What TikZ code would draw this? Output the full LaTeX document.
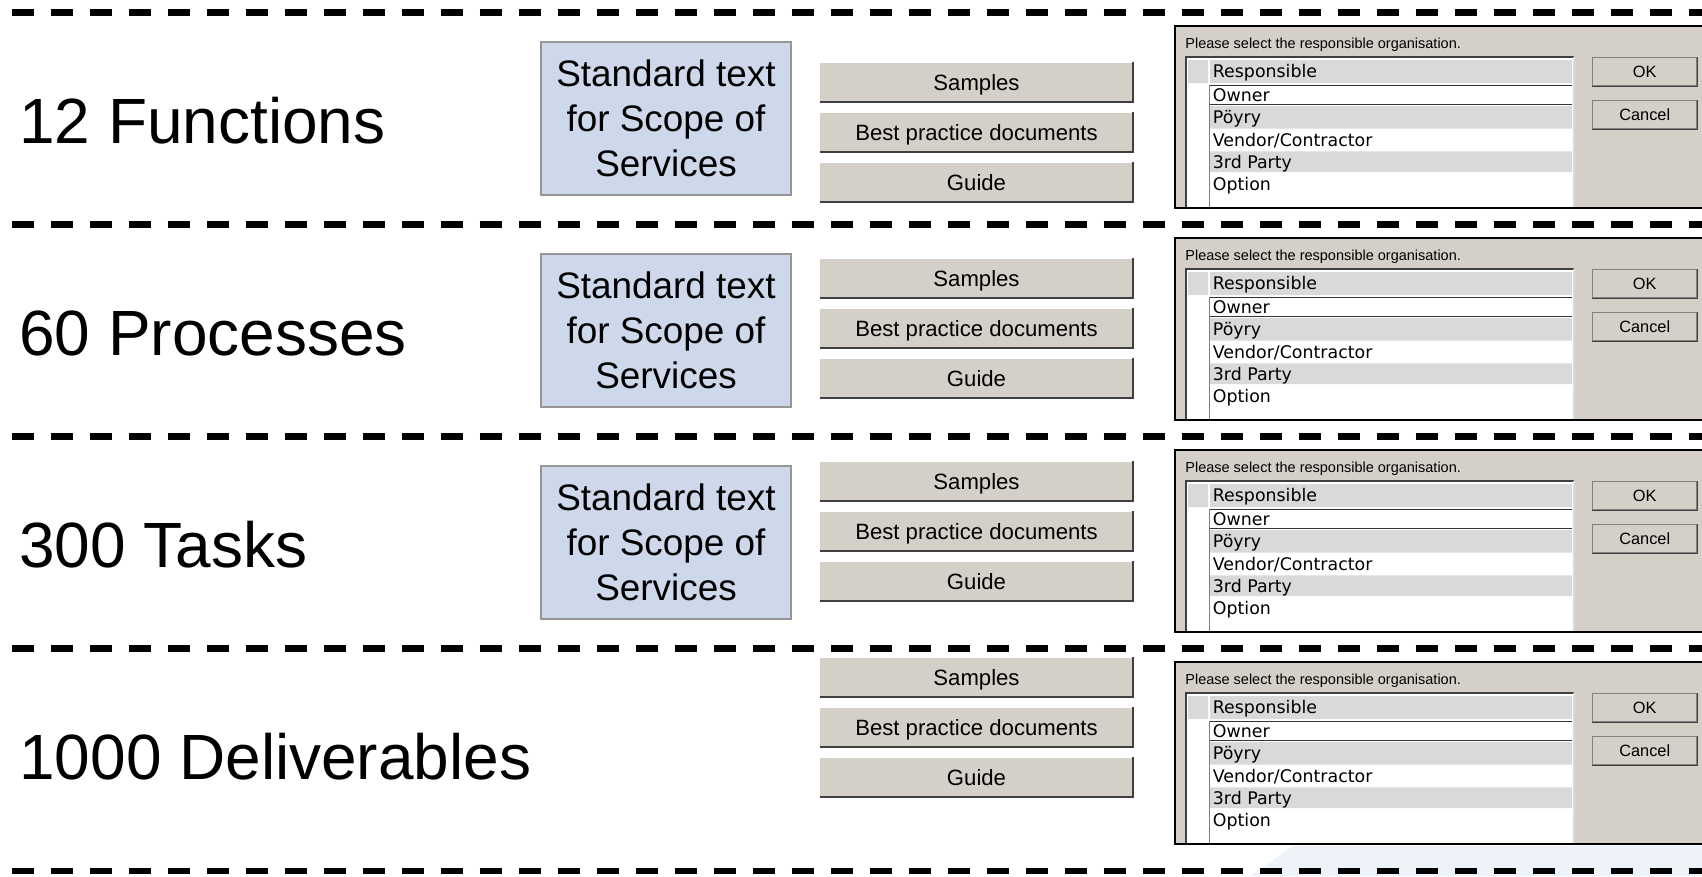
\documentclass[tikz,border=0pt]{standalone}
\usepackage{fontspec}
\setmainfont{Liberation Sans}
\newfontfamily\listfont{DejaVu Sans}
\usetikzlibrary{positioning}
\definecolor{wingray}{RGB}{212,208,200}
\definecolor{rowgray}{RGB}{217,217,217}
\definecolor{boxblue}{RGB}{205,217,234}
\definecolor{boxedge}{RGB}{150,150,150}
\definecolor{btndark}{RGB}{64,64,64}
\definecolor{logoblue}{RGB}{238,242,249}

\begin{document}
\begin{tikzpicture}[x=0.02cm,y=-0.02cm,node distance=1cm,every node/.style={inner sep=0pt},
  rowlabel/.style={anchor=base west,font=\fontsize{36.4}{40}\selectfont},
  stdbox/.style={draw=boxedge,line width=0.03cm,fill=boxblue,minimum width=5cm,minimum height=3.06cm,align=center,font=\fontsize{21}{25.6}\selectfont},
  btn/.style={fill=wingray,minimum width=6.26cm,minimum height=0.78cm,text depth=0pt,font=\fontsize{12.6}{14}\selectfont},
  btnlight/.style={white,line width=0.02cm},
  btnshade/.style={btndark,line width=0.04cm},
  dlgtext/.style={anchor=west,font=\fontsize{8.25}{10}\selectfont},
  listitem/.style={anchor=base west,font=\listfont\fontsize{9.9}{11}\selectfont},
  smallbtn/.style={draw=gray,fill=wingray,line width=0.02cm,minimum width=2.08cm,minimum height=0.56cm,text depth=0pt,font=\fontsize{9.3}{10}\selectfont},
  cutline/.style={line width=0.126cm,dash pattern=on 0.44cm off 0.34cm}]
  \useasboundingbox (0,0) rectangle (1702,876);
  \clip (0,0) rectangle (1702,876);
  \fill[logoblue] (1250,876) -- (1293,846) -- (1702,846) -- (1702,876) -- cycle;
  \foreach \y in {12.5,224.5,436.5,648.5,871}
    \draw[cutline] (12,\y) -- (1702,\y);
  \foreach \r/\dy in {1/0,2/212,3/424}
    \node[stdbox] (std\r) at (666,{118.5+\dy}) {Standard text\\for Scope of\\Services};
  \foreach \r/\dy/\by/\lbl in {1/0/0/12 Functions,2/212/196/60 Processes,3/424/399/300 Tasks,4/636/595/1000 Deliverables}{
    \node[rowlabel] (lab\r) at (19,{143+\dy}) {\lbl};
    \node[btn] (samp\r) at (976.5,{82+\by}) {Samples};
    \node[btn,below of=samp\r] (best\r) {Best practice documents};
    \node[btn,below of=best\r] (guide\r) {Guide};
    \foreach \b in {samp\r,best\r,guide\r}{
      \draw[btnlight] (\b.south west) |- (\b.north east);
      \draw[btnshade] (\b.south west) -| (\b.north east);
    }
    \begin{scope}[shift={(0,\dy)}]
      \fill[wingray] (1175,26) rectangle (1720,208);
      \node[dlgtext] (ask\r) at (1185,45) {Please select the responsible organisation.};
      \fill[white] (1185,56) rectangle (1574,207);
      \fill[rowgray] (1188,60) rectangle (1208,83) (1210,60) rectangle (1572,83)
        (1210,106) rectangle (1572,128.7) (1210,151.3) rectangle (1572,172);
      \draw[btndark,line width=0.04cm] (1186,207) -- (1186,57) -- (1574,57);
      \draw[white!85!black,line width=0.04cm] (1574,57) -- (1574,207);
      \draw[black!80,line width=0.03cm] (1210,85.3) -- (1572,85.3) (1210,104.7) -- (1572,104.7);
      \draw[gray,line width=0.02cm] (1209.3,85) -- (1209.3,207);
      \node[listitem] (head\r) at (1212.5,77.5) {Responsible};
      \node[listitem] (owner\r) at (1212.5,101.5) {Owner};
      \node[listitem] (poyry\r) at (1212.5,123.5) {Pöyry};
      \node[listitem] (vendor\r) at (1212.5,146) {Vendor/Contractor};
      \node[listitem] (third\r) at (1212.5,168) {3rd Party};
      \node[listitem] (option\r) at (1212.5,190) {Option};
      \node[smallbtn] (ok\r) at (1644.7,71.7) {OK};
      \node[smallbtn] (cancel\r) at (1644.7,114.8) {Cancel};
      \draw[btndark,line width=0.02cm] (ok\r.south west) -| (ok\r.north east);
      \draw[btndark,line width=0.02cm] (cancel\r.south west) -| (cancel\r.north east);
      \draw[line width=0.03cm] (1175,26) rectangle (1720,208);
    \end{scope}
  }
\end{tikzpicture}
\end{document}
